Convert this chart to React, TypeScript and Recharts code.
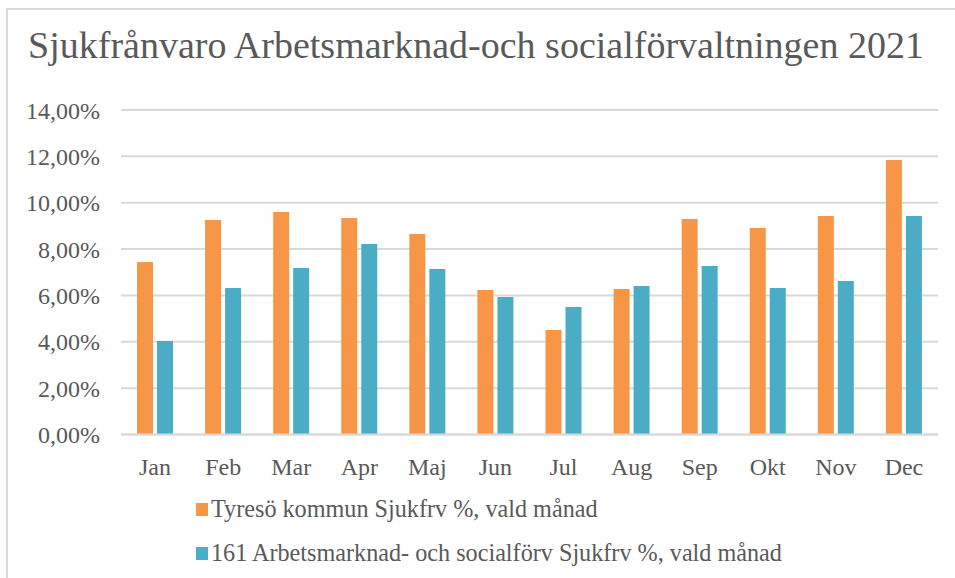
import { BarChart, Bar, XAxis, YAxis, CartesianGrid, Legend } from 'recharts';

const months = ['Jan', 'Feb', 'Mar', 'Apr', 'Maj', 'Jun', 'Jul', 'Aug', 'Sep', 'Okt', 'Nov', 'Dec'];
const tyreso = [7.44, 9.25, 9.6, 9.34, 8.65, 6.23, 4.51, 6.28, 9.3, 8.91, 9.43, 11.84];
const arbetsmarknad = [4.03, 6.32, 7.18, 8.22, 7.14, 5.93, 5.5, 6.41, 7.27, 6.32, 6.62, 9.43];
const yTicks = [0, 2, 4, 6, 8, 10, 12, 14];

const seriesNames = [
  'Tyresö kommun Sjukfrv %, vald månad',
  '161 Arbetsmarknad- och socialförv Sjukfrv %, vald månad',
];
const seriesColors = ['#F79646', '#4BACC6'];

const data = months.map((m, i) => ({
  month: m,
  tyreso: tyreso[i],
  arbetsmarknad: arbetsmarknad[i],
}));

const FONT = "'Liberation Serif', 'Times New Roman', serif";
const TEXT = '#595959';

const formatPct = (v: number) => `${v.toFixed(2).replace('.', ',')}%`;

const LegendBox = () => (
  <div style={{ fontFamily: FONT, fontSize: 24.2, color: TEXT }}>
    {seriesNames.map((name, i) => (
      <div
        key={name}
        style={{ display: 'flex', alignItems: 'center', height: 44, whiteSpace: 'nowrap' }}
      >
        <span
          style={{
            display: 'inline-block',
            width: 12,
            height: 13,
            background: seriesColors[i],
            marginRight: 3,
          }}
        />
        {name}
      </div>
    ))}
  </div>
);

export default function App() {
  return (
    <div style={{ position: 'absolute', left: 0, top: 0, width: 955, height: 578, background: '#fff', overflow: 'hidden' }}>
      <div
        style={{
          position: 'absolute',
          left: 6,
          top: 8,
          width: 1000,
          height: 700,
          borderTop: '2px solid #D9D9D9',
          borderLeft: '2px solid #D9D9D9',
        }}
      />
      <div
        style={{
          position: 'absolute',
          left: 0,
          top: 23,
          width: 952,
          textAlign: 'center',
          fontFamily: FONT,
          fontSize: 38,
          color: TEXT,
          lineHeight: '44px',
        }}
      >
        Sjukfrånvaro Arbetsmarknad-och socialförvaltningen 2021
      </div>
      <div style={{ position: 'absolute', left: 0, top: 0 }}>
        <BarChart
          width={955}
          height={578}
          data={data}
          margin={{ top: 110, right: 17, left: 21, bottom: 93.5 }}
          barGap={4}
          barSize={16}
        >
          <CartesianGrid vertical={false} stroke="#D9D9D9" strokeWidth={2} />
          <XAxis
            dataKey="month"
            height={50}
            axisLine={{ stroke: '#D9D9D9', strokeWidth: 2 }}
            tickLine={false}
            tickMargin={17}
            tick={{ fill: TEXT, fontFamily: FONT, fontSize: 24 }}
            interval={0}
          />
          <YAxis
            width={100}
            domain={[0, 14]}
            ticks={yTicks}
            axisLine={false}
            tickLine={false}
            tickMargin={15}
            tickFormatter={formatPct}
            tick={{ fill: TEXT, fontFamily: FONT, fontSize: 24 }}
          />
          <Legend
            layout="vertical"
            align="center"
            verticalAlign="middle"
            wrapperStyle={{ top: 487, left: 196, width: 700 }}
            content={() => <LegendBox />}
          />
          <Bar dataKey="tyreso" name={seriesNames[0]} fill={seriesColors[0]} isAnimationActive={false} />
          <Bar dataKey="arbetsmarknad" name={seriesNames[1]} fill={seriesColors[1]} isAnimationActive={false} />
        </BarChart>
      </div>
    </div>
  );
}
